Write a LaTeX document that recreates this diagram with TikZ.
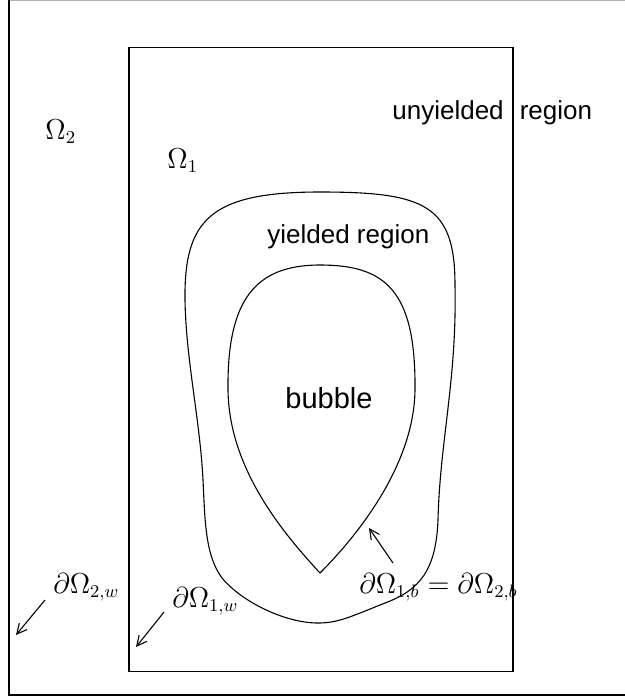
\documentclass[tikz,border=0pt]{standalone}
\usepackage{fontspec}
\setmainfont{Liberation Sans}
\usetikzlibrary{arrows.meta}
\begin{document}
\begin{tikzpicture}[x=0.5pt,y=-0.5pt,
  lbl/.style={inner sep=0pt,anchor=base west,font=\fontsize{13}{15}\selectfont},
  bigl/.style={inner sep=0pt,anchor=base west,font=\fontsize{14.5}{17}\selectfont},
  mlbl/.style={inner sep=0pt,anchor=base west,font=\fontsize{13.3}{15}\selectfont},
  curve/.style={line width=0.55pt,line join=round},
  pointer/.style={line width=0.55pt,-{Straight Barb[length=5pt,width=5pt]}}]
\useasboundingbox (0,0) rectangle (625,698);
% outer frame (cut at right)
\draw[gray!60,line width=0.6pt] (9,0.6) -- (625,0.6);
\draw[line width=0.75pt] (9,0.3) -- (9,695) -- (625,695);
% inner rectangle
\draw[line width=0.6pt] (129,47.5) rectangle (513,671.5);
% yielded region boundary
\draw[curve] (320,192)
  .. controls (425,192) and (455,205) .. (455,285)
  .. controls (457,380) and (440,440) .. (438,520)
  .. controls (436,570) and (420,590) .. (385,603)
  .. controls (350,617) and (338,623) .. (318,623)
  .. controls (285,623) and (242,602) .. (222,578)
  .. controls (205,555) and (205,520) .. (203,480)
  .. controls (200,420) and (186,360) .. (185,300)
  .. controls (184,220) and (210,192) .. (320,192) -- cycle;
% bubble
\draw[curve] (320,573)
  .. controls (350,543) and (414,470) .. (415,390)
  .. controls (416,290) and (385,265) .. (320,265)
  .. controls (255,265) and (227,300) .. (228,390)
  .. controls (229,470) and (285,535) .. (320,573);
% labels
\node[mlbl] (o2) at (45,139) {$\Omega_2$};
\node[mlbl] (o1) at (167,168) {$\Omega_1$};
\node[lbl] (unyl) at (392,119) {unyielded\hspace{0.62em}region};
\node[lbl] (yl) at (267,243) {yielded region};
\node[bigl] (bub) at (285,408) {bubble};
\node[mlbl] (d2w) at (53,593) {$\partial\Omega_{2,w}$};
\node[mlbl] (d1w) at (172,607) {$\partial\Omega_{1,w}$};
\node[mlbl] (db) at (359,593) {$\partial\Omega_{1,b}=\partial\Omega_{2,b}$};
% arrows
\coordinate (a2s) at (45,600);
\coordinate (a2e) at (16,635);
\coordinate (a1s) at (164,612);
\coordinate (a1e) at (136,647);
\coordinate (abs) at (393,563);
\coordinate (abe) at (369,528);
\draw[pointer] (a2s) -- (a2e);
\draw[pointer] (a1s) -- (a1e);
\draw[pointer] (abs) -- (abe);
\end{tikzpicture}
\end{document}
